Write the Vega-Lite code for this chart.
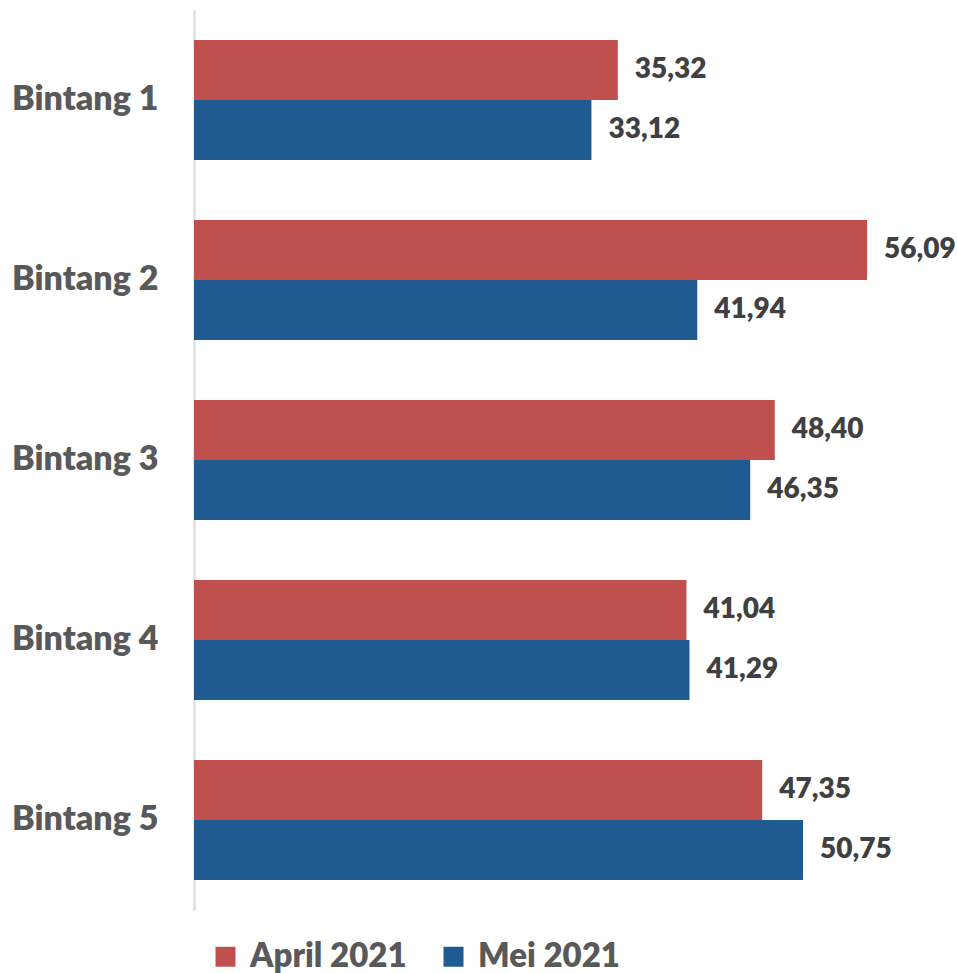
{
  "$schema": "https://vega.github.io/schema/vega-lite/v6.json",
  "width": 720,
  "height": 900,
  "autosize": {"type": "none"},
  "padding": {"left": 194, "top": 10, "right": 43, "bottom": 63},
  "background": "white",
  "config": {
    "view": {"stroke": null},
    "font": "Lato"
  },
  "data": {
    "values": [
      {"kategori": "Bintang 1", "periode": "April 2021", "nilai": 35.32, "label": "35,32"},
      {"kategori": "Bintang 1", "periode": "Mei 2021", "nilai": 33.12, "label": "33,12"},
      {"kategori": "Bintang 2", "periode": "April 2021", "nilai": 56.09, "label": "56,09"},
      {"kategori": "Bintang 2", "periode": "Mei 2021", "nilai": 41.94, "label": "41,94"},
      {"kategori": "Bintang 3", "periode": "April 2021", "nilai": 48.40, "label": "48,40"},
      {"kategori": "Bintang 3", "periode": "Mei 2021", "nilai": 46.35, "label": "46,35"},
      {"kategori": "Bintang 4", "periode": "April 2021", "nilai": 41.04, "label": "41,04"},
      {"kategori": "Bintang 4", "periode": "Mei 2021", "nilai": 41.29, "label": "41,29"},
      {"kategori": "Bintang 5", "periode": "April 2021", "nilai": 47.35, "label": "47,35"},
      {"kategori": "Bintang 5", "periode": "Mei 2021", "nilai": 50.75, "label": "50,75"}
    ]
  },
  "encoding": {
    "y": {
      "field": "kategori",
      "type": "nominal",
      "sort": null,
      "scale": {"paddingInner": 0.333, "paddingOuter": 0.167},
      "axis": {
        "title": null,
        "domain": true,
        "domainColor": "#d9d9d9",
        "domainWidth": 2,
        "ticks": false,
        "labelPadding": 36,
        "labelFontSize": 34,
        "labelFontWeight": 800,
        "labelColor": "#595959",
        "labelFont": "Lato"
      }
    },
    "yOffset": {"field": "periode", "type": "nominal", "sort": ["April 2021", "Mei 2021"]},
    "x": {
      "field": "nilai",
      "type": "quantitative",
      "scale": {"domain": [0, 60], "nice": false},
      "axis": null
    }
  },
  "layer": [
    {
      "mark": {"type": "bar"},
      "encoding": {
        "color": {
          "field": "periode",
          "type": "nominal",
          "sort": ["April 2021", "Mei 2021"],
          "scale": {"domain": ["April 2021", "Mei 2021"], "range": ["#C0504D", "#1F5A91"]},
          "legend": {
            "title": null,
            "orient": "none",
            "direction": "horizontal",
            "legendX": 15,
            "legendY": 930,
            "symbolType": "square",
            "symbolSize": 400,
            "symbolStrokeWidth": 0,
            "symbolOpacity": 1,
            "labelFontSize": 33,
            "labelFontWeight": 800,
            "labelColor": "#595959",
            "labelFont": "Lato",
            "labelLimit": 400,
            "labelOffset": 8,
            "columnPadding": 30,
            "symbolOffset": 0
          }
        }
      }
    },
    {
      "mark": {"type": "text", "align": "left", "baseline": "middle", "dx": 17, "fontSize": 28, "fontWeight": 800, "color": "#404040", "font": "Lato"},
      "encoding": {
        "text": {"field": "label"}
      }
    }
  ]
}
